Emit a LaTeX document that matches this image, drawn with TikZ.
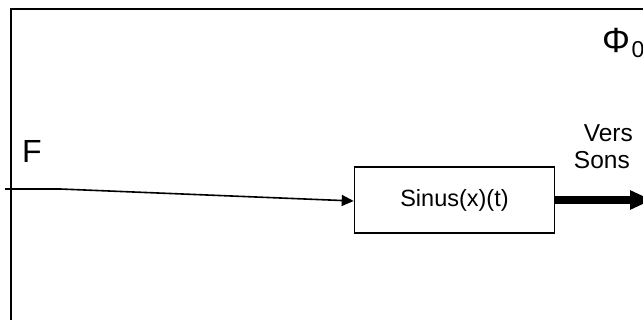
\documentclass[tikz,border=0pt]{standalone}
\usepackage{fontspec}
\setmainfont{Liberation Sans}
\usetikzlibrary{arrows.meta}
\begin{document}
\begin{tikzpicture}[x=1pt,y=-1pt,
  frameline/.style={line width=1.3pt},
  blockbox/.style={draw,line width=1.6pt,minimum width=200pt,minimum height=66pt,inner sep=0pt,font=\fontsize{23.5}{26}\selectfont},
  thinarrow/.style={line width=1.6pt,-{Triangle[length=12pt,width=11pt]}},
  thickarrow/.style={line width=8pt,-{Triangle[length=22pt,width=18pt]}},
  lbl/.style={inner sep=0pt}]
\useasboundingbox (0,0) rectangle (643,320);
\fill[white] (0,0) rectangle (643,320);
% frame (cut by the page edges)
\draw[frameline] (11,340) -- (11,9) -- (700,9);
% labels
\node[lbl,anchor=base west,font=\fontsize{32}{36}\selectfont] (F) at (22,163) {F};
\node[lbl,anchor=base west,font=\fontsize{35}{40}\selectfont] (phi) at (602,53) {Φ};
\node[lbl,anchor=base west,font=\fontsize{23}{26}\selectfont] (zero) at (phi.base east) [xshift=1pt,yshift=-5pt] {0};
\node[lbl,anchor=base east,font=\fontsize{24.5}{26}\selectfont] (vers) at (633,142) {Vers};
\node[lbl,anchor=base east,font=\fontsize{24.5}{26}\selectfont] (sons) at (630,169) {Sons};
% block
\node[blockbox] (sin) at (454.5,200) {Sinus(x)(t)};
% connectors
\coordinate (start) at (5,189);
\coordinate (bend) at (60,189);
\coordinate (out) at (652,200);
\draw[thinarrow] (start) -- (bend) -- (sin.west |- 0,201);
\draw[thickarrow] (sin.east |- 0,200) -- (out);
\end{tikzpicture}
\end{document}
